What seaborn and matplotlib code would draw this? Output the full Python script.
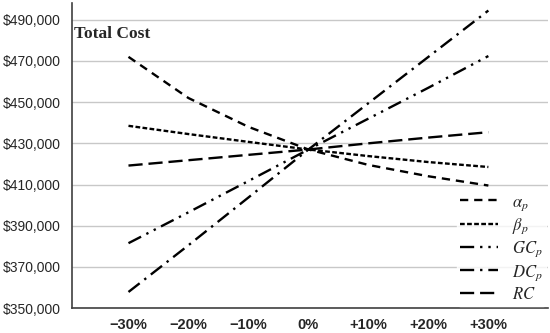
import pandas as pd
import matplotlib.pyplot as plt
import seaborn as sns

# sensitivity change (%) and tick labels
changes = [-30, -20, -10, 0, 10, 20, 30]
change_labels = ['\u221230%', '\u221220%', '\u221210%', '0%', '+10%', '+20%', '+30%']

# total cost for each parameter change
alpha_p = [472000, 452000, 438000, 427000, 419500, 414000, 409500]
beta_p = [438500, 434500, 430700, 427000, 423800, 420900, 418500]
gc_p = [381500, 396500, 411700, 427000, 442000, 457000, 472400]
dc_p = [357800, 380500, 403700, 427000, 449500, 472000, 494500]
rc = [419200, 421800, 424400, 427000, 430000, 432800, 435400]

names = [r'$\alpha_p$', r'$\beta_p$', r'$GC_p$', r'$DC_p$', r'$RC$']
series = [alpha_p, beta_p, gc_p, dc_p, rc]

rows = []
for name, vals in zip(names, series):
    for c, v in zip(changes, vals):
        rows.append({'change': c, 'cost': v, 'param': name})
df = pd.DataFrame(rows)

sns.set_style('white')
plt.rcParams['font.family'] = ['Liberation Sans', 'DejaVu Sans']
plt.rcParams['mathtext.fontset'] = 'stix'

fig, ax = plt.subplots(figsize=(5.5, 3.33), dpi=100)

dash_styles = {
    names[0]: (3.5, 2.5),
    names[1]: (2, 1),
    names[2]: (6, 2.5, 1, 2.5, 1, 2.5),
    names[3]: (6, 2.5, 1, 2.5),
    names[4]: (6, 2.5),
}
sns.lineplot(data=df, x='change', y='cost', style='param', dashes=dash_styles,
             color='black', linewidth=1.7, ax=ax, legend=True)

ax.set_xlim(-39.5, 40)
ax.set_ylim(350000, 498000)
ax.set_yticks(range(350000, 490001, 20000))
ax.set_yticklabels(['${:,}'.format(v) for v in range(350000, 490001, 20000)], fontsize=10)
ax.set_xticks(changes)
ax.set_xticklabels(change_labels, fontsize=10.5, fontweight='bold')
ax.set_xlabel('')
ax.set_ylabel('')
ax.tick_params(axis='y', length=0, pad=8)
ax.tick_params(axis='x', length=0, pad=7)
ax.yaxis.grid(True, color='#c8c8c8', linewidth=1)
ax.set_axisbelow(True)
for s in ['top', 'right']:
    ax.spines[s].set_visible(False)
for s in ['left', 'bottom']:
    ax.spines[s].set_color('#404040')
    ax.spines[s].set_linewidth(1.2)

ax.text(0.006, 0.9, 'Total Cost', transform=ax.transAxes, fontsize=12.5,
        fontweight='bold', family='Liberation Serif', va='center')

leg = ax.legend(loc='lower right', bbox_to_anchor=(1.0, 0.0), frameon=True,
                fontsize=12, handlelength=2.3, handletextpad=0.8,
                labelspacing=0.22, borderaxespad=0.15, borderpad=0.2)
leg.get_frame().set_facecolor('white')
leg.get_frame().set_edgecolor('white')

plt.subplots_adjust(left=0.13, right=0.997, top=0.99, bottom=0.075)
plt.savefig('out.png', dpi=100)
